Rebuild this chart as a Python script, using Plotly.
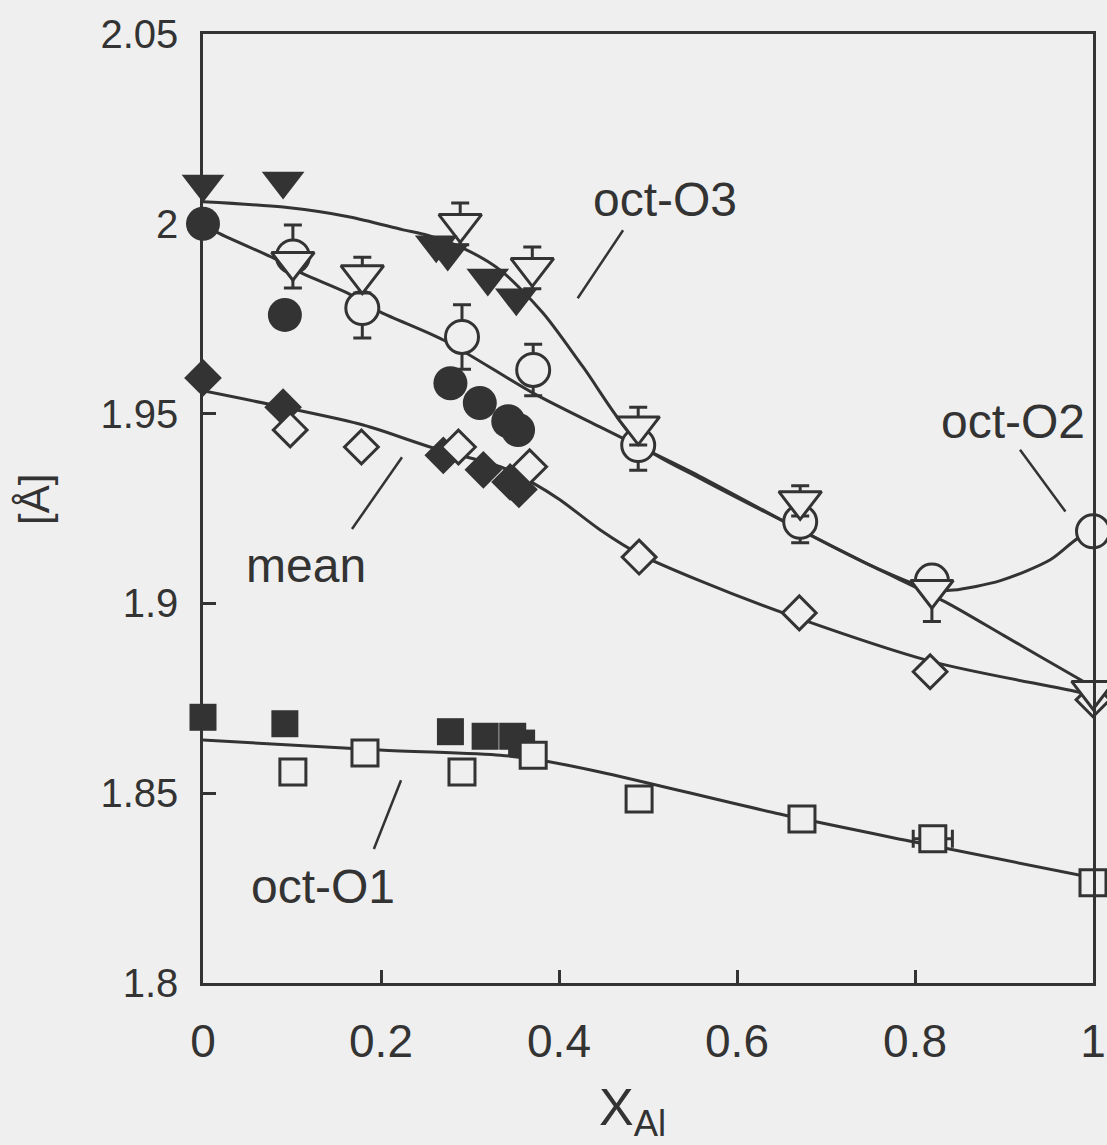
import plotly.graph_objects as go

# ---------------- data ----------------
# oct-O3 : filled down-triangles (no error) and open down-triangles (with errors)
o3_filled_x = [0.0, 0.09, 0.262, 0.275, 0.32, 0.352]
o3_filled_y = [2.0105, 2.0113, 1.9945, 1.9923, 1.9857, 1.9805]
o3_open_x = [0.101, 0.179, 0.289, 0.370, 0.489, 0.671, 0.819, 1.0]
o3_open_y = [1.9900, 1.9865, 2.0000, 1.9884, 1.9467, 1.9270, 1.9036, 1.8770]
o3_err_plus = [0.0, 0.0047, 0.0055, 0.0055, 0.0050, 0.0040, 0.0, 0.0]
o3_err_minus = [0.0, 0.0047, 0.0055, 0.0055, 0.0050, 0.0040, 0.0084, 0.0]

# oct-O2 : filled circles and open circles (with errors)
o2_filled_x = [0.0, 0.092, 0.278, 0.311, 0.343, 0.354]
o2_filled_y = [2.0000, 1.9760, 1.9580, 1.9528, 1.9480, 1.9457]
o2_open_x = [0.101, 0.179, 0.291, 0.371, 0.489, 0.671, 0.819, 1.0]
o2_open_y = [1.9914, 1.9778, 1.9702, 1.9615, 1.9417, 1.9215, 1.9060, 1.9190]
o2_err = [0.0083, 0.0079, 0.0085, 0.0068, 0.0066, 0.0055, 0.0, 0.0]

# mean : filled and open diamonds
mean_filled_x = [0.0, 0.09, 0.27, 0.315, 0.345, 0.355]
mean_filled_y = [1.9594, 1.9517, 1.9390, 1.9352, 1.9320, 1.9300]
mean_open_x = [0.098, 0.178, 0.287, 0.367, 0.490, 0.670, 0.817, 1.0]
mean_open_y = [1.9457, 1.9412, 1.9412, 1.9360, 1.9122, 1.8975, 1.8820, 1.8746]

# oct-O1 : filled and open squares (open with x errors)
o1_filled_x = [0.0, 0.092, 0.278, 0.317, 0.348, 0.358]
o1_filled_y = [1.8700, 1.8683, 1.8662, 1.8650, 1.8650, 1.8632]
o1_open_x = [0.101, 0.182, 0.291, 0.371, 0.490, 0.673, 0.820, 1.0]
o1_open_y = [1.8556, 1.8606, 1.8556, 1.8600, 1.8485, 1.8432, 1.8380, 1.8264]
o1_xerr = [0.0, 0.0, 0.0, 0.0, 0.0, 0.012, 0.022, 0.0]

# fitted curves
fit_o3_x = [0.0, 0.09, 0.165, 0.225, 0.252, 0.292, 0.334, 0.382, 0.427, 0.489, 0.558, 0.67, 0.75, 0.834, 0.9, 0.982, 1.0]
fit_o3_y = [2.0058, 2.0044, 2.0018, 1.9984, 1.9970, 1.9936, 1.9878, 1.9765, 1.9623, 1.9423, 1.9330, 1.9195, 1.9100, 1.9004, 1.8915, 1.8804, 1.8780]
fit_o2_x = [0.0, 0.017, 0.079, 0.111, 0.162, 0.199, 0.27, 0.371, 0.446, 0.489, 0.558, 0.67, 0.75, 0.82, 0.843, 0.896, 0.952, 0.982, 1.0]
fit_o2_y = [2.0000, 1.9976, 1.9910, 1.9870, 1.9818, 1.9768, 1.9694, 1.9554, 1.9465, 1.9415, 1.9335, 1.9195, 1.9100, 1.9035, 1.9035, 1.9060, 1.9115, 1.9170, 1.9190]
fit_mean_x = [0.0, 0.09, 0.18, 0.258, 0.334, 0.371, 0.401, 0.446, 0.49, 0.558, 0.652, 0.82, 0.982, 1.0]
fit_mean_y = [1.9560, 1.9517, 1.9470, 1.9410, 1.9360, 1.9317, 1.9273, 1.9194, 1.9130, 1.9060, 1.8975, 1.8846, 1.8767, 1.8755]
fit_o1_x = [0.0, 0.199, 0.334, 0.371, 0.446, 0.648, 0.798, 1.0]
fit_o1_y = [1.8640, 1.8614, 1.8600, 1.8590, 1.8556, 1.8445, 1.8372, 1.8277]

x_tickvals = [0, 0.2, 0.4, 0.6, 0.8, 1]
x_ticktext = ["0", "0.2", "0.4", "0.6", "0.8", "1"]
y_tickvals = [1.8, 1.85, 1.9, 1.95, 2.0, 2.05]
y_ticktext = ["1.8", "1.85", "1.9", "1.95", "2", "2.05"]

# ---------------- style ----------------
BG = "#efefef"
INK = "#333333"
FONT = "Liberation Sans, Arial, Helvetica, sans-serif"

fig = go.Figure()

def curve(x, y):
    fig.add_trace(go.Scatter(x=x, y=y, mode="lines", cliponaxis=False,
                             line=dict(color=INK, width=3, shape="spline", smoothing=0.8),
                             hoverinfo="skip", showlegend=False))

for cx, cy in [(fit_o1_x, fit_o1_y), (fit_mean_x, fit_mean_y), (fit_o2_x, fit_o2_y), (fit_o3_x, fit_o3_y)]:
    curve(cx, cy)

def markers(x, y, symbol, size, filled, **kw):
    fig.add_trace(go.Scatter(
        x=x, y=y, mode="markers", showlegend=False, cliponaxis=False,
        marker=dict(symbol=symbol, size=size,
                    color=INK if filled else BG,
                    line=dict(color=INK, width=0 if filled else 3)),
        **kw))

# squares
markers(o1_filled_x, o1_filled_y, "square", 27, True)
markers(o1_open_x, o1_open_y, "square", 26, False,
        error_x=dict(type="data", array=o1_xerr, color=INK, thickness=3, width=9))
# diamonds
markers(mean_filled_x, mean_filled_y, "diamond", 29, True)
markers(mean_open_x, mean_open_y, "diamond", 26, False)
# circles
markers(o2_filled_x, o2_filled_y, "circle", 34, True)
markers(o2_open_x, o2_open_y, "circle", 33, False,
        error_y=dict(type="data", array=o2_err, color=INK, thickness=3, width=9))
# triangles
markers(o3_open_x, o3_open_y, "triangle-down", 37, False,
        error_y=dict(type="data", array=o3_err_plus, arrayminus=o3_err_minus, symmetric=False,
                     color=INK, thickness=3, width=9))
markers(o3_filled_x, o3_filled_y, "triangle-down", 37, True)

# labels with leader lines
labels = [
    ("oct-O3", 0.519, 2.0063, (0.421, 1.9804, 0.472, 1.9983)),
    ("oct-O2", 0.910, 1.9478, (0.918, 1.9405, 0.969, 1.9242)),
    ("mean", 0.116, 1.9100, (0.2236, 1.9385, 0.1674, 1.9196)),
    ("oct-O1", 0.135, 1.8253, (0.2225, 1.8534, 0.192, 1.8353)),
]
for text, tx, ty, (x0, y0, x1, y1) in labels:
    fig.add_annotation(x=tx, y=ty, xref="x", yref="y", text=text, showarrow=False,
                       font=dict(family=FONT, size=48, color=INK), xanchor="center", yanchor="middle")
    fig.add_shape(type="line", x0=x0, y0=y0, x1=x1, y1=y1, xref="x", yref="y",
                  line=dict(color=INK, width=2.5))

# axis titles
fig.add_annotation(x=0.483, y=-0.135, xref="paper", yref="paper", text="X<sub>Al</sub>", showarrow=False,
                   font=dict(family=FONT, size=52, color=INK), xanchor="center", yanchor="middle")
fig.add_annotation(x=-0.19, y=0.51, xref="paper", yref="paper", text="[Å]", showarrow=False, textangle=-90,
                   font=dict(family=FONT, size=42, color=INK), xanchor="center", yanchor="middle")

fig.update_xaxes(range=[0, 1], tickvals=x_tickvals, ticktext=x_ticktext, automargin=False,
                 showline=True, mirror=True, linecolor=INK, linewidth=2.5,
                 ticks="inside", ticklen=13, tickwidth=2.5, tickcolor=INK,
                 showgrid=False, zeroline=False, ticklabelstandoff=16,
                 tickfont=dict(family=FONT, size=46, color=INK))
fig.update_yaxes(range=[1.8, 2.05], tickvals=y_tickvals, ticktext=y_ticktext, automargin=False,
                 showline=True, mirror=True, linecolor=INK, linewidth=2.5,
                 ticks="inside", ticklen=13, tickwidth=2.5, tickcolor=INK,
                 showgrid=False, zeroline=False, ticklabelstandoff=14,
                 tickfont=dict(family=FONT, size=40, color=INK))

fig.update_layout(width=1107, height=1145, paper_bgcolor=BG, plot_bgcolor=BG,
                  margin=dict(l=203, r=14, t=34, b=162, autoexpand=False), showlegend=False)

fig.write_html("out.html")
